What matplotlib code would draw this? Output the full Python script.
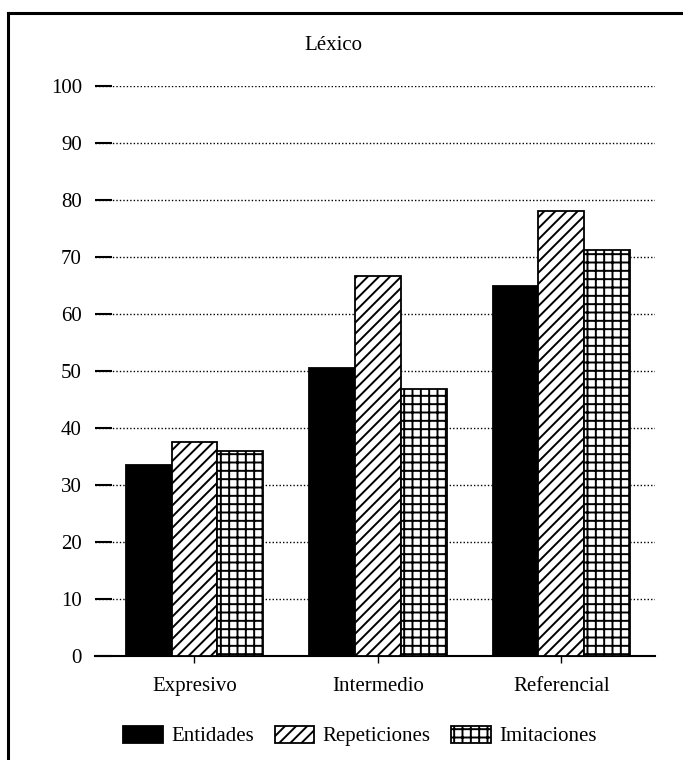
import numpy as np
import matplotlib
matplotlib.use("Agg")
import matplotlib.pyplot as plt
from matplotlib.lines import Line2D

plt.rcParams["font.family"] = ["Liberation Serif", "DejaVu Serif"]
plt.rcParams["hatch.linewidth"] = 1.4

categories = ["Expresivo", "Intermedio", "Referencial"]
series_names = ["Entidades", "Repeticiones", "Imitaciones"]
entidades = [33.5, 50.6, 65.0]
repeticiones = [37.5, 66.7, 78.0]
imitaciones = [36.0, 46.8, 71.2]
y_ticks = [0, 10, 20, 30, 40, 50, 60, 70, 80, 90, 100]

fig = plt.figure(figsize=(6.83, 7.6), dpi=100)
ax = fig.add_axes([95 / 683, 1 - 656 / 760, 560 / 683, 570 / 760])

x = np.arange(len(categories))
w = 0.25
styles = [
    dict(color="black", edgecolor="black", hatch=None),
    dict(color="white", edgecolor="black", hatch="///"),
    dict(color="white", edgecolor="black", hatch="++"),
]
for i, (vals, name, st) in enumerate(zip([entidades, repeticiones, imitaciones],
                                         series_names, styles)):
    ax.bar(x + (i - 1) * w, vals, width=w, label=name,
           facecolor=st["color"], edgecolor=st["edgecolor"],
           hatch=st["hatch"], linewidth=1.3, zorder=3)

ax.set_xlim(-0.542, 2.51)
ax.set_ylim(0, 100)
ax.set_yticks(y_ticks)
ax.set_xticks(x)
ax.set_xticklabels(categories)
ax.tick_params(axis="y", direction="in", length=12, width=1.5, pad=9.5,
               labelsize=15)
ax.tick_params(axis="x", direction="out", length=5, width=1, pad=10,
               labelsize=15)
ax.grid(True, axis="y", linestyle=(0, (1, 1.5)), color="black", linewidth=1,
        zorder=1)
ax.set_axisbelow(True)
for s in ["top", "right", "left"]:
    ax.spines[s].set_visible(False)
ax.spines["bottom"].set_linewidth(1.5)

fig.text(333 / 683, 1 - 45 / 760, "Léxico", ha="center", va="center",
         fontsize=15)

fig.legend(loc="center", bbox_to_anchor=(360 / 683, 1 - 736 / 760), ncol=3,
           frameon=False, fontsize=15, handlelength=1.9, handleheight=0.9,
           handletextpad=0.4, columnspacing=1.0)

# page frame
fig.add_artist(Line2D([8 / 683, 1.0], [1 - 13 / 760, 1 - 13 / 760],
                      transform=fig.transFigure, color="black", linewidth=2.2))
fig.add_artist(Line2D([8 / 683, 8 / 683], [0, 1 - 13 / 760],
                      transform=fig.transFigure, color="black", linewidth=2.2))

fig.savefig("out.png", dpi=100)
